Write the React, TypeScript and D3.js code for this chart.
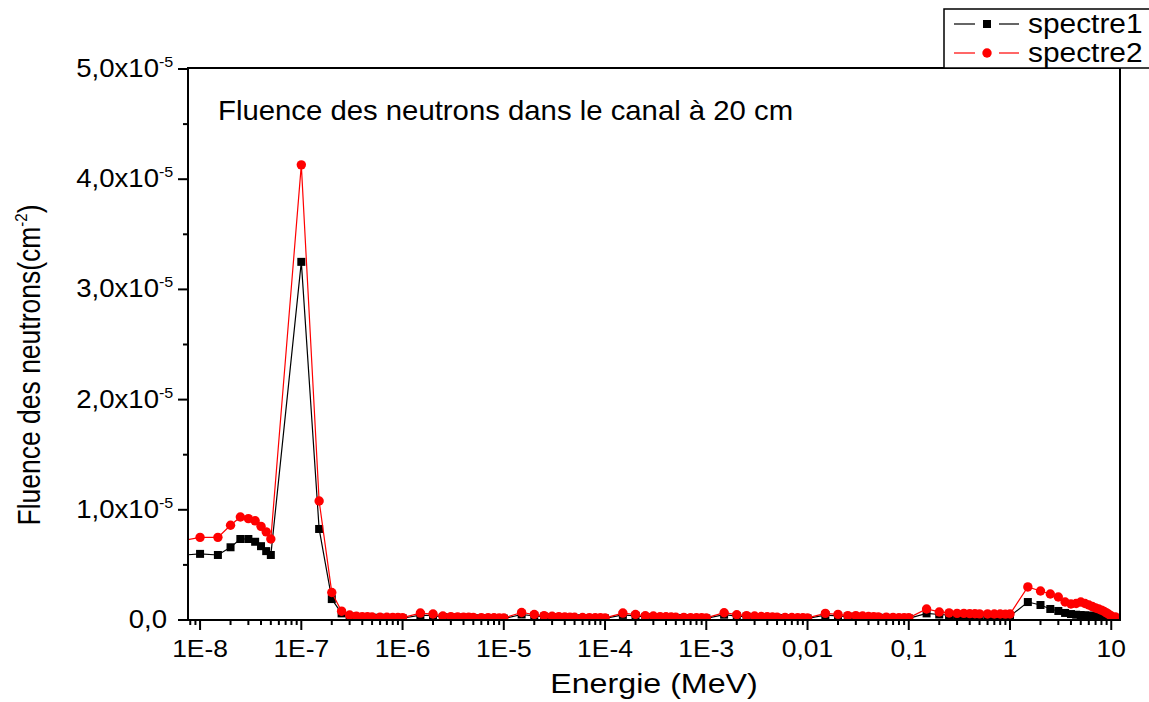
import React, { useEffect, useRef } from 'react';
import * as d3 from 'd3';

// energie (MeV) et fluences (en unites de 1e-5 cm^-2)
const energie = [
  5e-9, 1e-8, 1.5e-8, 2e-8, 2.5e-8, 3e-8, 3.5e-8, 4e-8, 4.5e-8, 5e-8,
  1e-7, 1.5e-7, 2e-7, 2.5e-7, 3e-7, 3.5e-7, 4e-7, 4.5e-7, 5e-7, 6e-7, 7e-7, 8e-7, 9e-7,
  1e-6, 1.5e-6, 2e-6, 2.5e-6, 3e-6, 3.5e-6, 4e-6, 4.5e-6, 5e-6, 6e-6, 7e-6, 8e-6, 9e-6,
  1e-5, 1.5e-5, 2e-5, 2.5e-5, 3e-5, 3.5e-5, 4e-5, 4.5e-5, 5e-5, 6e-5, 7e-5, 8e-5, 9e-5,
  1e-4, 1.5e-4, 2e-4, 2.5e-4, 3e-4, 3.5e-4, 4e-4, 4.5e-4, 5e-4, 6e-4, 7e-4, 8e-4, 9e-4,
  1e-3, 1.5e-3, 2e-3, 2.5e-3, 3e-3, 3.5e-3, 4e-3, 4.5e-3, 5e-3, 6e-3, 7e-3, 8e-3, 9e-3,
  0.01, 0.015, 0.02, 0.025, 0.03, 0.035, 0.04, 0.045, 0.05, 0.06, 0.07, 0.08, 0.09,
  0.1, 0.15, 0.2, 0.25, 0.3, 0.35, 0.4, 0.45, 0.5, 0.6, 0.7, 0.8, 0.9,
  1, 1.5, 2, 2.5, 3, 3.5, 4, 4.5, 5, 5.5, 6, 6.5, 7, 7.5, 8, 8.5, 9, 9.5, 10, 11,
];

const spectre1 = [
  0.58, 0.60, 0.59, 0.66, 0.735, 0.735, 0.71, 0.67, 0.625, 0.59,
  3.25, 0.826, 0.19, 0.06, 0.035, 0.027, 0.024, 0.022, 0.021, 0.02, 0.019, 0.018, 0.017,
  0.016, 0.045, 0.04, 0.027, 0.023, 0.021, 0.02, 0.019, 0.018, 0.017, 0.016, 0.015, 0.014,
  0.013, 0.05, 0.037, 0.03, 0.025, 0.022, 0.02, 0.019, 0.018, 0.017, 0.016, 0.015, 0.014,
  0.014, 0.046, 0.037, 0.028, 0.026, 0.023, 0.021, 0.02, 0.019, 0.018, 0.017, 0.016, 0.015,
  0.014, 0.048, 0.035, 0.03, 0.026, 0.023, 0.021, 0.02, 0.019, 0.018, 0.017, 0.016, 0.015,
  0.014, 0.044, 0.037, 0.03, 0.029, 0.026, 0.024, 0.022, 0.021, 0.019, 0.018, 0.017, 0.016,
  0.015, 0.06, 0.05, 0.045, 0.043, 0.042, 0.041, 0.04, 0.039, 0.038, 0.037, 0.036, 0.035,
  0.035, 0.163, 0.136, 0.10, 0.082, 0.064, 0.054, 0.048, 0.045, 0.042, 0.04, 0.038, 0.036, 0.034, 0.032, 0.03, 0.028, 0.026, 0.022, 0.02,
];

const spectre2 = [
  0.70, 0.75, 0.75, 0.86, 0.935, 0.92, 0.90, 0.85, 0.80, 0.735,
  4.13, 1.08, 0.25, 0.08, 0.045, 0.035, 0.031, 0.029, 0.027, 0.026, 0.025, 0.024, 0.023,
  0.022, 0.063, 0.054, 0.036, 0.031, 0.028, 0.026, 0.025, 0.024, 0.022, 0.021, 0.02, 0.019,
  0.018, 0.068, 0.05, 0.04, 0.034, 0.03, 0.028, 0.026, 0.025, 0.023, 0.022, 0.021, 0.02,
  0.019, 0.063, 0.05, 0.038, 0.036, 0.031, 0.029, 0.027, 0.025, 0.024, 0.022, 0.021, 0.02,
  0.019, 0.066, 0.048, 0.04, 0.036, 0.032, 0.029, 0.027, 0.026, 0.024, 0.023, 0.021, 0.02,
  0.019, 0.06, 0.051, 0.04, 0.04, 0.036, 0.032, 0.03, 0.028, 0.026, 0.024, 0.022, 0.021,
  0.02, 0.10, 0.073, 0.064, 0.06, 0.06, 0.058, 0.057, 0.056, 0.055, 0.054, 0.054, 0.053,
  0.054, 0.30, 0.263, 0.236, 0.209, 0.163, 0.145, 0.15, 0.163, 0.15, 0.136, 0.122, 0.109, 0.10, 0.09, 0.077, 0.064, 0.05, 0.036, 0.027,
];

const xTickValues = [1e-8, 1e-7, 1e-6, 1e-5, 1e-4, 1e-3, 0.01, 0.1, 1, 10];
const xTickLabels = ['1E-8', '1E-7', '1E-6', '1E-5', '1E-4', '1E-3', '0,01', '0,1', '1', '10'];
const yTickValues = [0, 1, 2, 3, 4, 5];
const yMinorTicks = [0.5, 1.5, 2.5, 3.5, 4.5];
const seriesNames = ['spectre1', 'spectre2'];
const seriesColors = ['#000000', '#ff0000'];

const FONT = "'Liberation Sans', Arial, sans-serif";
const SX = 1.15; // la figure d'origine est un peu etiree en largeur

export default function App() {
  const ref = useRef<SVGSVGElement>(null);

  useEffect(() => {
    const svg = d3.select(ref.current);
    svg.selectAll('*').remove();

    const left = 188, right = 1120, top = 68, bottom = 620;

    const x = d3.scaleLog().domain([7.6e-9, 12.2]).range([left, right]);
    const y = d3.scaleLinear().domain([0, 5]).range([bottom, 69]);

    svg.append('defs').append('clipPath').attr('id', 'plotclip')
      .append('rect')
      .attr('x', left).attr('y', top)
      .attr('width', right - left).attr('height', bottom - top);

    // ticks Y
    const gy = svg.append('g');
    gy.selectAll('line.maj').data(yTickValues).enter().append('line')
      .attr('x1', left - 10).attr('x2', left)
      .attr('y1', d => y(d)).attr('y2', d => y(d))
      .attr('stroke', '#000').attr('stroke-width', 2);
    gy.selectAll('line.min').data(yMinorTicks).enter().append('line')
      .attr('x1', left - 5).attr('x2', left)
      .attr('y1', d => y(d)).attr('y2', d => y(d))
      .attr('stroke', '#000').attr('stroke-width', 2);

    gy.selectAll('g.lab').data(yTickValues).enter().append('g')
      .attr('transform', d => `translate(${d === 0 ? 167 : 159},${y(d) + 8}) scale(${SX},1.05)`)
      .append('text')
      .attr('text-anchor', 'end')
      .attr('font-family', FONT)
      .attr('font-size', 24)
      .attr('fill', '#000')
      .text(d => (d === 0 ? '0,0' : `${d},0x10`));
    gy.selectAll('text.sup').data(yTickValues.filter(d => d !== 0)).enter().append('text')
      .attr('transform', d => `translate(159,${y(d) - 2}) scale(${SX},1)`)
      .attr('font-family', FONT)
      .attr('font-size', 14)
      .text('-5');

    // ticks X
    const minorX = x.ticks().filter(t => !xTickValues.some(v => Math.abs(v - t) / v < 1e-6));
    const gx = svg.append('g');
    gx.selectAll('line.maj').data(xTickValues).enter().append('line')
      .attr('x1', d => x(d)).attr('x2', d => x(d))
      .attr('y1', bottom).attr('y2', bottom + 10)
      .attr('stroke', '#000').attr('stroke-width', 2);
    gx.selectAll('line.min').data(minorX).enter().append('line')
      .attr('x1', d => x(d)).attr('x2', d => x(d))
      .attr('y1', bottom).attr('y2', bottom + 5)
      .attr('stroke', '#000').attr('stroke-width', 2);
    gx.selectAll('g.lab').data(xTickValues).enter().append('g')
      .attr('transform', d => `translate(${x(d)},657) scale(${SX},1.05)`)
      .append('text')
      .attr('text-anchor', 'middle')
      .attr('font-family', FONT)
      .attr('font-size', 23)
      .text((d, i) => xTickLabels[i]);

    // courbes
    const plot = svg.append('g').attr('clip-path', 'url(#plotclip)');
    const series = [spectre1, spectre2];
    const line = d3.line<number>()
      .x((d, i) => x(energie[i]))
      .y(d => y(d));

    series.forEach((vals, k) => {
      plot.append('path')
        .attr('d', line(vals))
        .attr('fill', 'none')
        .attr('stroke', seriesColors[k])
        .attr('stroke-width', 1.2);
      if (k === 0) {
        plot.selectAll('rect.s1').data(vals).enter().append('rect')
          .attr('x', (d, i) => x(energie[i]) - 4)
          .attr('y', d => y(d) - 4)
          .attr('width', 8).attr('height', 8)
          .attr('fill', seriesColors[k]);
      } else {
        plot.selectAll('circle.s2').data(vals).enter().append('circle')
          .attr('cx', (d, i) => x(energie[i]))
          .attr('cy', d => y(d))
          .attr('r', 4.7)
          .attr('fill', seriesColors[k]);
      }
    });

    // cadre
    svg.append('rect')
      .attr('x', left).attr('y', top)
      .attr('width', right - left).attr('height', bottom - top)
      .attr('fill', 'none').attr('stroke', '#000').attr('stroke-width', 2);

    // titre interne
    svg.append('g').attr('transform', `translate(218,120) scale(${SX},1.05)`)
      .append('text')
      .attr('font-family', FONT).attr('font-size', 25.5)
      .text('Fluence des neutrons dans le canal à 20 cm');

    // titre axe X
    svg.append('g').attr('transform', `translate(654,693) scale(${SX},1.02)`)
      .append('text')
      .attr('text-anchor', 'middle')
      .attr('font-family', FONT).attr('font-size', 28)
      .text('Energie (MeV)');

    // titre axe Y
    const yt = svg.append('g').attr('transform', `translate(40,365) scale(${SX},1) rotate(-90)`)
      .append('text')
      .attr('text-anchor', 'middle')
      .attr('font-family', FONT).attr('font-size', 26.5);
    yt.append('tspan').text('Fluence des neutrons(cm');
    yt.append('tspan').attr('font-size', 15).attr('dy', -11).text('-2');
    yt.append('tspan').attr('dy', 11).text(')');

    // legende
    const lg = svg.append('g');
    lg.append('rect')
      .attr('x', 944).attr('y', 9).attr('width', 230).attr('height', 59)
      .attr('fill', '#fff').attr('stroke', '#000').attr('stroke-width', 1.5);
    const rows = [24, 53];
    seriesNames.forEach((name, k) => {
      const ry = rows[k];
      lg.append('line').attr('x1', 954).attr('x2', 975).attr('y1', ry).attr('y2', ry)
        .attr('stroke', seriesColors[k]).attr('stroke-width', 1.2);
      lg.append('line').attr('x1', 999).attr('x2', 1019).attr('y1', ry).attr('y2', ry)
        .attr('stroke', seriesColors[k]).attr('stroke-width', 1.2);
      if (k === 0) {
        lg.append('rect').attr('x', 987 - 4).attr('y', ry - 4).attr('width', 8).attr('height', 8)
          .attr('fill', seriesColors[k]);
      } else {
        lg.append('circle').attr('cx', 987).attr('cy', ry).attr('r', 4.7).attr('fill', seriesColors[k]);
      }
      lg.append('g').attr('transform', `translate(1028,${ry + 9}) scale(${SX},1.05)`)
        .append('text')
        .attr('font-family', FONT).attr('font-size', 26)
        .text(name);
    });
  }, []);

  return (
    <svg
      ref={ref}
      width={1149}
      height={702}
      style={{ position: 'absolute', left: 0, top: 0, background: '#fff' }}
    />
  );
}
